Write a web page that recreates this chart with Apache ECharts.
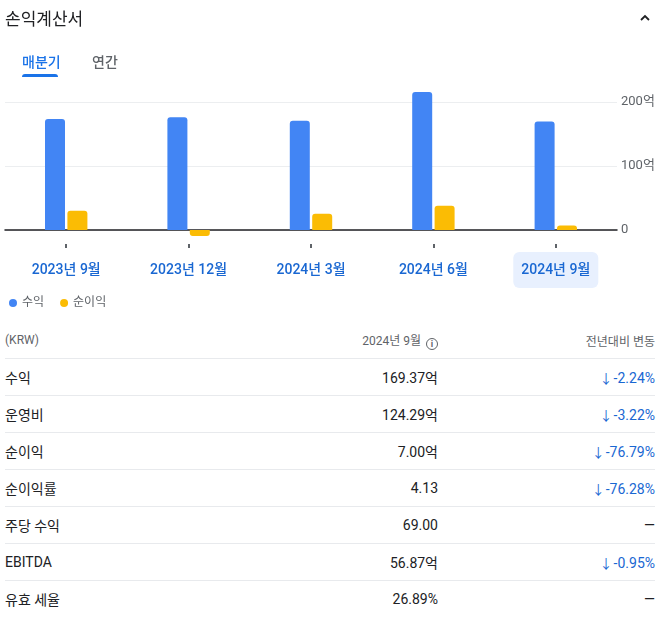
<!DOCTYPE html>
<html lang="ko">
<head>
<meta charset="utf-8">
<script src="https://cdn.jsdelivr.net/npm/echarts@6/dist/echarts.min.js"></script>
<style>
  html, body { margin: 0; padding: 0; background: #fff; }
  body {
    width: 667px; height: 626px; position: relative; overflow: hidden;
    font-family: Roboto, "Noto Sans CJK KR", sans-serif; color: #202124;
  }
  .title { position: absolute; left: 5px; top: 5px; font-size: 17px; font-family: "Noto Sans CJK KR", sans-serif; }
  .chevron { position: absolute; left: 638px; top: 11px; }
  .tab { position: absolute; top: 51px; font-size: 14px; font-weight: 500; font-family: "Noto Sans CJK KR", sans-serif; }
  .tab.on { left: 22px; color: #1a73e8; }
  .tab.off { left: 92px; color: #5f6368; }
  .tab-bar { position: absolute; left: 22px; top: 74px; width: 36px; height: 3px; background: #1a73e8; border-radius: 3px 3px 0 0; }
  #chart { position: absolute; left: 0; top: 0; width: 667px; height: 320px; }
  table { position: absolute; left: 5px; top: 322px; width: 650px; border-collapse: collapse; }
  td { height: 36px; border-bottom: 1px solid #e8eaed; padding: 0; font-size: 14px; }
  tr:last-child td { border-bottom: none; }
  td.v { text-align: right; width: 240px; }
  td.c { text-align: right; width: 217px; color: #1967d2; }
  .arrow { font-size: 13px; margin-right: 1px; }
  tr.head td { font-size: 12px; color: #5f6368; font-weight: 400; height: 36px; }
  tr.head td.c { color: #5f6368; }
  .info { display: inline-block; width: 10px; height: 10px; border: 1.3px solid #5f6368; border-radius: 50%;
    font-size: 9px; line-height: 10px; text-align: center; vertical-align: -2px; margin-left: 5px; font-weight: 700; }
</style>
</head>
<body>
<div id="chart"></div>
<div class="title">손익계산서</div>
<svg class="chevron" width="14" height="14" viewBox="0 0 14 14"><polyline points="3,9 7,5 11,9" fill="none" stroke="#202124" stroke-width="1.8"/></svg>
<div class="tab on">매분기</div>
<div class="tab off">연간</div>
<div class="tab-bar"></div>
<table id="tbl"></table>
<script>
const periods = ["2023년 9월", "2023년 12월", "2024년 3월", "2024년 6월", "2024년 9월"];
const revenue = [173.25, 176.0, 170.8, 215.5, 169.37];
const netIncome = [30.16, -9.2, 25.5, 38.0, 7.0];
const seriesNames = ["수익", "순이익"];

const rowLabels = ["수익", "운영비", "순이익", "순이익률", "주당 수익", "EBITDA", "유효 세율"];
const rowValues = ["169.37억", "124.29억", "7.00억", "4.13", "69.00", "56.87억", "26.89%"];
const rowChanges = ["-2.24%", "-3.22%", "-76.79%", "-76.28%", "", "-0.95%", ""];

// table
const tbl = document.getElementById("tbl");
let html = `<tr class="head"><td>(KRW)</td><td class="v">2024년 9월<span class="info">i</span></td><td class="c">전년대비 변동</td></tr>`;
rowLabels.forEach((label, i) => {
  const change = rowChanges[i]
    ? '<span class="arrow">↓</span>' + rowChanges[i]
    : '<span style="color:#202124">—</span>';
  html += `<tr><td>${label}</td><td class="v">${rowValues[i]}</td><td class="c">${change}</td></tr>`;
});
tbl.innerHTML = html;

function barData(values) {
  return values.map((v) => ({
    value: v,
    itemStyle: { borderRadius: v >= 0 ? [3, 3, 0, 0] : [0, 0, 3, 3] },
  }));
}

const chart = echarts.init(document.getElementById("chart"), null, { renderer: "canvas" });
const labelStyle = { fontSize: 14, fontWeight: 500, color: "#1967d2", padding: [11, 8], lineHeight: 16 };

chart.setOption({
  animation: false,
  textStyle: { fontFamily: 'Roboto, "Noto Sans CJK KR", sans-serif' },
  color: ["#4285f4", "#fbbc04"],
  legend: {
    data: seriesNames,
    left: 4,
    top: 292,
    icon: "circle",
    itemWidth: 8,
    itemHeight: 8,
    itemGap: 16,
    textStyle: { fontSize: 12, color: "#5f6368" },
  },
  grid: { left: 5, right: 50, top: 102, height: 128 },
  xAxis: [
    {
      type: "category",
      data: periods,
      axisLine: { onZero: true, lineStyle: { color: "#202124", width: 1.5 } },
      axisTick: { show: false },
      axisLabel: { show: false },
    },
    {
      type: "category",
      data: periods,
      position: "bottom",
      offset: 14,
      axisLine: { show: false },
      axisTick: { show: true, alignWithLabel: true, length: 4, lineStyle: { color: "#5f6368", width: 2 } },
      axisLabel: {
        margin: 18,
        formatter: (v, i) => (i === periods.length - 1 ? `{sel|${v}}` : `{n|${v}}`),
        rich: {
          n: labelStyle,
          sel: { ...labelStyle, backgroundColor: "#e8f0fe", borderRadius: 6 },
        },
      },
    },
  ],
  yAxis: {
    type: "value",
    position: "right",
    min: 0,
    max: 200,
    interval: 100,
    axisLine: { show: false },
    axisTick: { show: false },
    axisLabel: {
      margin: 4,
      fontSize: 13,
      color: "#5f6368",
      formatter: (v) => (v === 0 ? "0" : v + "억"),
    },
    splitLine: { lineStyle: { color: "#eceef0", width: 1 } },
  },
  series: [
    {
      name: seriesNames[0],
      type: "bar",
      clip: false,
      barWidth: 20,
      barGap: "12%",
      data: barData(revenue),
    },
    {
      name: seriesNames[1],
      type: "bar",
      clip: false,
      barWidth: 20,
      data: barData(netIncome),
    },
  ],
});
</script>
</body>
</html>
